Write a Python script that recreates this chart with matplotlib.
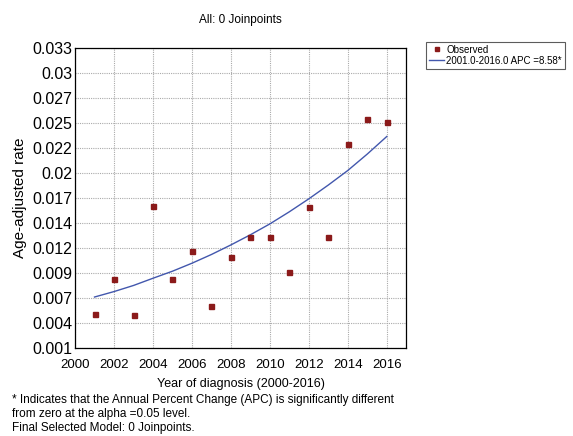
import matplotlib
matplotlib.use('Agg')
import matplotlib.pyplot as plt

plt.rcParams['font.family'] = ['Liberation Sans', 'DejaVu Sans']

# observed age-adjusted rates per year
years = [2001, 2002, 2003, 2004, 2005, 2006, 2007, 2008,
         2009, 2010, 2011, 2012, 2013, 2014, 2015, 2016]
observed = [0.00463, 0.00842, 0.00452, 0.01615, 0.00842, 0.01141, 0.00554, 0.01071,
            0.01284, 0.01284, 0.00917, 0.01604, 0.01284, 0.02272, 0.02546, 0.02514]
# fitted joinpoint model values
fitted = [0.00647, 0.00705, 0.00770, 0.00847, 0.00922, 0.01007, 0.01100, 0.01202,
          0.01310, 0.01426, 0.01555, 0.01693, 0.01840, 0.01995, 0.02170, 0.02357]

x_ticks = [2000, 2002, 2004, 2006, 2008, 2010, 2012, 2014, 2016]
y_tick_labels = ['0.001', '0.004', '0.007', '0.009', '0.012', '0.014', '0.017',
                 '0.02', '0.022', '0.025', '0.027', '0.03', '0.033']
y_min, y_max = 0.001, 0.033

fig = plt.figure(figsize=(5.73, 4.36), dpi=100)
ax = fig.add_axes([0.131, 0.201, 0.578, 0.689])

ax.plot(years, fitted, color='#4257ad', linewidth=1.0,
        label='2001.0-2016.0 APC =8.58*', zorder=3)
ax.plot(years, observed, linestyle='none', marker='s', markersize=3.6,
        color='#8b1a1a', label='Observed', zorder=4)

ax.set_xlim(2000, 2017)
ax.set_ylim(y_min, y_max)
ax.set_xticks(x_ticks)
ax.set_xticklabels([str(t) for t in x_ticks], fontsize=9.5)
step = (y_max - y_min) / (len(y_tick_labels) - 1)
ax.set_yticks([y_min + i * step for i in range(len(y_tick_labels))])
ax.set_yticklabels(y_tick_labels, fontsize=11.5)
ax.tick_params(length=0)
ax.tick_params(axis='y', pad=2)
ax.tick_params(axis='x', pad=8)
ax.grid(True, color='#aaaaaa', linestyle=(0, (1, 1)), linewidth=0.8)
for s in ax.spines.values():
    s.set_linewidth(0.9)

ax.set_xlabel('Year of diagnosis (2000-2016)', fontsize=9, labelpad=5)
ax.set_ylabel('Age-adjusted rate', fontsize=11, labelpad=4)
ax.set_title('All: 0 Joinpoints', fontsize=8.5, pad=18)

handles, labels = ax.get_legend_handles_labels()
leg = fig.legend(handles[::-1], labels[::-1], loc='upper left',
                 bbox_to_anchor=(0.735, 0.915), fontsize=7, frameon=True,
                 fancybox=False, handlelength=1.6, handletextpad=0.2,
                 borderpad=0.3, labelspacing=0.1, markerscale=0.8)
leg.get_frame().set_edgecolor('#333333')
leg.get_frame().set_linewidth(0.8)

fig.text(0.021, 0.082, '* Indicates that the Annual Percent Change (APC) is significantly different',
         fontsize=8.5, va='center')
fig.text(0.021, 0.050, 'from zero at the alpha =0.05 level.', fontsize=8.5, va='center')
fig.text(0.021, 0.018, 'Final Selected Model: 0 Joinpoints.', fontsize=8.5, va='center')

fig.savefig('out.png', dpi=100)
